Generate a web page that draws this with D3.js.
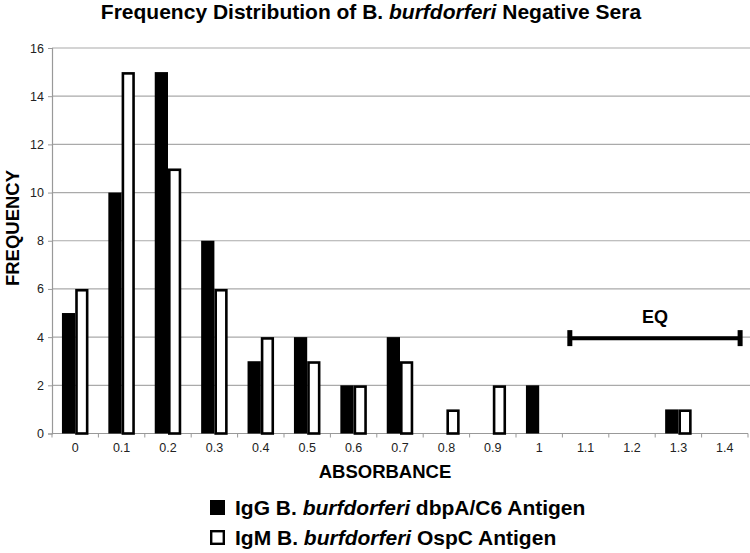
<!DOCTYPE html>
<html>
<head>
<meta charset="utf-8">
<script src="https://cdn.jsdelivr.net/npm/d3@7"></script>
<style>
  body { margin: 0; background: #fff; }
  text { font-family: "Liberation Sans", Arial, Helvetica, sans-serif; }
  .tick text { fill: #222; font-size: 12.5px; }
</style>
</head>
<body>
<div id="chart"></div>
<script>
// absorbance bins
var categories = ["0", "0.1", "0.2", "0.3", "0.4", "0.5", "0.6", "0.7", "0.8", "0.9", "1", "1.1", "1.2", "1.3", "1.4"];
var igg = [5, 10, 15, 8, 3, 4, 2, 4, 0, 0, 2, 0, 0, 1, 0];
var igm = [6, 15, 11, 6, 4, 3, 2, 3, 1, 2, 0, 0, 0, 1, 0];
var yTicks = [0, 2, 4, 6, 8, 10, 12, 14, 16];
// equivocal range, in absorbance units, drawn at frequency 4
var eqRange = [1.066, 1.433];
var eqLevel = 4;

var width = 750, height = 553;
var margin = {top: 48, right: 2, bottom: 120, left: 52};

var svg = d3.select("#chart")
  .append("svg")
  .attr("width", width)
  .attr("height", height);

var x = d3.scaleBand()
  .domain(categories)
  .range([margin.left, width - margin.right])
  .padding(0);

var x1 = d3.scaleBand()
  .domain(["igg", "igm"])
  .range([0, x.bandwidth()])
  .paddingInner(0)
  .paddingOuter(0.75);

var y = d3.scaleLinear()
  .domain([0, 16])
  .range([height - margin.bottom + 0.5, margin.top]);

// absorbance -> pixel, bin centres at 0, 0.1, ...
var xv = d3.scaleLinear()
  .domain([0, 0.1])
  .range([x(categories[0]) + x.bandwidth() / 2, x(categories[1]) + x.bandwidth() / 2]);

// gridlines
svg.append("g")
  .selectAll("line")
  .data(yTicks.slice(1))
  .enter()
  .append("line")
    .attr("x1", margin.left)
    .attr("x2", width)
    .attr("y1", function(d) { return y(d); })
    .attr("y2", function(d) { return y(d); })
    .attr("stroke", "#aaa")
    .attr("stroke-width", 1.2);

// y axis
var yAxis = svg.append("g")
  .attr("transform", "translate(" + margin.left + ",0)")
  .call(d3.axisLeft(y).tickValues(yTicks).tickSize(4).tickPadding(4));
yAxis.select(".domain").attr("stroke", "#999").attr("stroke-width", 1.2);
yAxis.selectAll(".tick line").attr("stroke", "#999");

// x axis: labels at bin centres, ticks at bin edges
var xAxis = svg.append("g")
  .attr("transform", "translate(0," + y(0) + ")")
  .call(d3.axisBottom(x).tickSize(0).tickPadding(10));
xAxis.select(".domain").remove();

svg.append("line")
  .attr("x1", margin.left)
  .attr("x2", width - margin.right)
  .attr("y1", y(0))
  .attr("y2", y(0))
  .attr("stroke", "#999")
  .attr("stroke-width", 1.2);

svg.append("g")
  .selectAll("line")
  .data(categories.map(function(d) { return x(d); }).concat([x(categories[categories.length - 1]) + x.bandwidth()]))
  .enter()
  .append("line")
    .attr("x1", function(d) { return d; })
    .attr("x2", function(d) { return d; })
    .attr("y1", y(0))
    .attr("y2", y(0) + 4)
    .attr("stroke", "#999");

// bars
var bars = svg.append("g");
bars.selectAll("rect.igg")
  .data(igg)
  .enter()
  .append("rect")
    .attr("class", "igg")
    .attr("display", function(d) { return d > 0 ? null : "none"; })
    .attr("x", function(d, i) { return x(categories[i]) + x1("igg"); })
    .attr("y", function(d) { return y(d); })
    .attr("width", x1.bandwidth())
    .attr("height", function(d) { return y(0) - y(d); })
    .attr("fill", "#000");

var sw = 2.6;
bars.selectAll("rect.igm")
  .data(igm)
  .enter()
  .append("rect")
    .attr("class", "igm")
    .attr("display", function(d) { return d > 0 ? null : "none"; })
    .attr("x", function(d, i) { return x(categories[i]) + x1("igm") + sw / 2; })
    .attr("y", function(d) { return y(d) + sw / 2; })
    .attr("width", x1.bandwidth() - sw)
    .attr("height", function(d) { return y(0) - y(d) - sw / 2; })
    .attr("fill", "#fff")
    .attr("stroke", "#000")
    .attr("stroke-width", sw);

// EQ range
var eq = svg.append("g");
eq.append("line")
  .attr("x1", xv(eqRange[0]))
  .attr("x2", xv(eqRange[1]))
  .attr("y1", y(eqLevel) + 1)
  .attr("y2", y(eqLevel) + 1)
  .attr("stroke", "#000")
  .attr("stroke-width", 4);
eq.selectAll("rect")
  .data(eqRange)
  .enter()
  .append("rect")
    .attr("x", function(d) { return xv(d) - 2.5; })
    .attr("y", y(eqLevel) + 1 - 8)
    .attr("width", 5)
    .attr("height", 16)
    .attr("fill", "#000");
eq.append("text")
  .attr("x", (xv(eqRange[0]) + xv(eqRange[1])) / 2)
  .attr("y", y(eqLevel) - 14)
  .attr("text-anchor", "middle")
  .attr("font-size", 18)
  .attr("font-weight", "bold")
  .text("EQ");

// title
var title = svg.append("text")
  .attr("x", 371)
  .attr("y", 19)
  .attr("text-anchor", "middle")
  .attr("font-size", 21)
  .attr("font-weight", "bold");
title.append("tspan").text("Frequency Distribution of B. ");
title.append("tspan").attr("font-style", "italic").text("burfdorferi");
title.append("tspan").text(" Negative Sera");

// axis titles
svg.append("text")
  .attr("transform", "translate(19,228) rotate(-90)")
  .attr("text-anchor", "middle")
  .attr("font-size", 18.5)
  .attr("font-weight", "bold")
  .text("FREQUENCY");

svg.append("text")
  .attr("x", 385)
  .attr("y", 478)
  .attr("text-anchor", "middle")
  .attr("font-size", 18.5)
  .attr("font-weight", "bold")
  .text("ABSORBANCE");

// legend
var legendItems = [
  {fill: "#000", pre: "IgG B. ", it: "burfdorferi", post: " dbpA/C6 Antigen"},
  {fill: "#fff", pre: "IgM B. ", it: "burfdorferi", post: " OspC Antigen"}
];
var legend = svg.append("g")
  .selectAll("g")
  .data(legendItems)
  .enter()
  .append("g")
    .attr("transform", function(d, i) { return "translate(210," + (500 + i * 30) + ")"; });
legend.append("rect")
  .attr("x", 1.2)
  .attr("y", 1.2)
  .attr("width", 12.6)
  .attr("height", 12.6)
  .attr("fill", function(d) { return d.fill; })
  .attr("stroke", "#000")
  .attr("stroke-width", 2.4);
var lt = legend.append("text")
  .attr("x", 25)
  .attr("y", 15)
  .attr("font-size", 21)
  .attr("font-weight", "bold");
lt.append("tspan").text(function(d) { return d.pre; });
lt.append("tspan").attr("font-style", "italic").text(function(d) { return d.it; });
lt.append("tspan").text(function(d) { return d.post; });
</script>
</body>
</html>
